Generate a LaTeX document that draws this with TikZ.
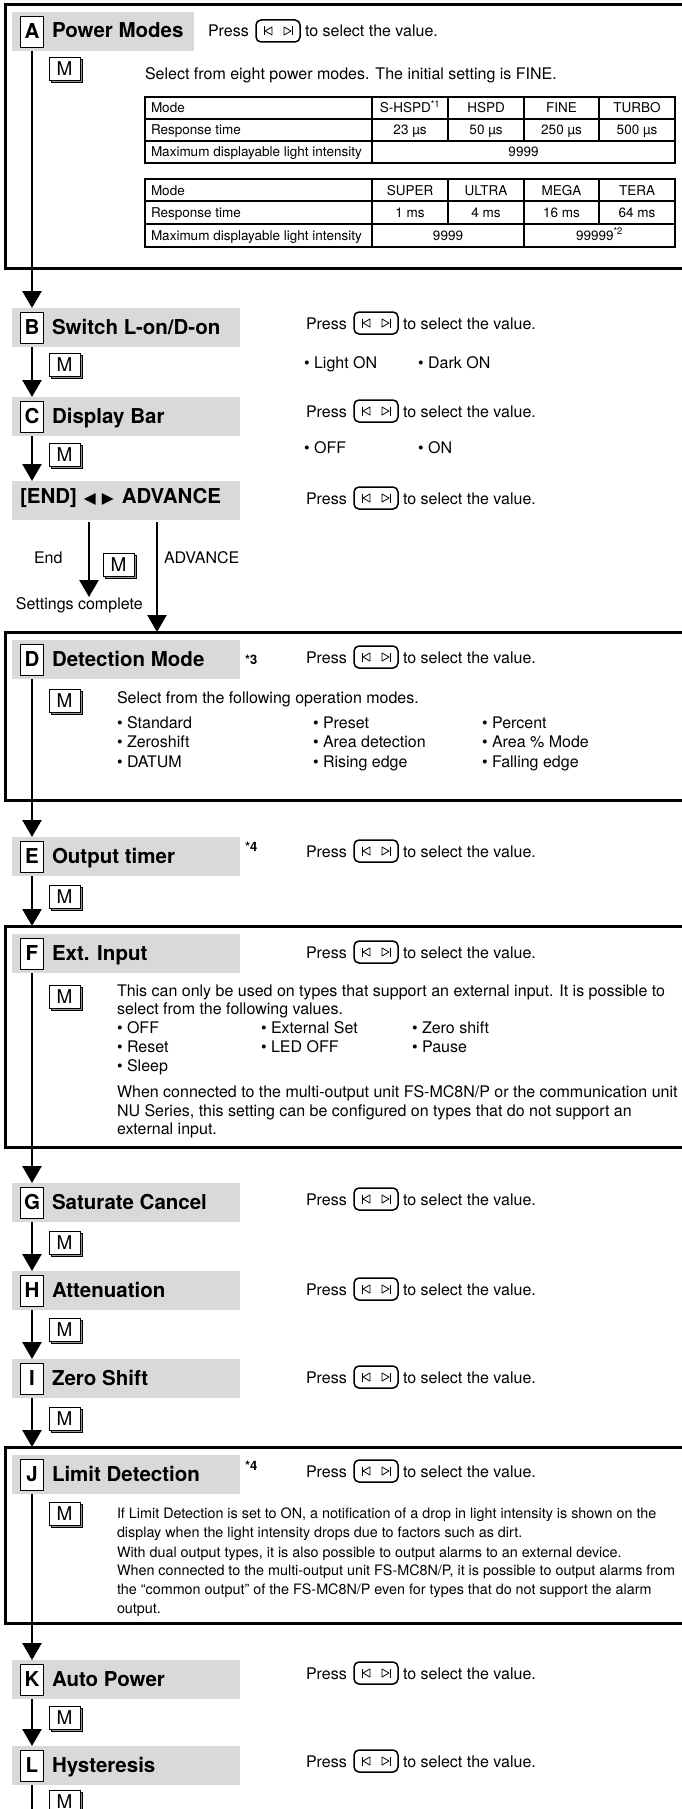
\documentclass[tikz,border=0pt]{standalone}
\usepackage{fontspec}
\setmainfont{TeX Gyre Heros}
\newfontfamily\dejavu{DejaVu Sans}
\usetikzlibrary{arrows.meta}
\definecolor{hgray}{gray}{0.85}
\definecolor{keyshadow}{gray}{0.6}
\tikzset{
  every node/.style={inner sep=0pt, outer sep=0pt},
  body/.style={font=\fontsize{16}{19}\selectfont, anchor=base west},
  para/.style={font=\fontsize{16}{19}\selectfont, anchor=base west},
  jpara/.style={font=\fontsize{14.35}{19}\selectfont, anchor=base west},
  tabtxt/.style={font=\fontsize{13.5}{16}\selectfont, anchor=base},
  tablbl/.style={font=\fontsize{13.5}{16}\selectfont, anchor=base west},
  title/.style={font=\fontsize{20.5}{24}\selectfont\bfseries, anchor=base west},
  hdr/.style={fill=hgray, anchor=north west, minimum height=39pt},
  letterbox/.style={draw, fill=white, line width=0.8pt, minimum width=23pt, minimum height=31pt, font=\fontsize{20.5}{24}\selectfont\bfseries},
  outerbox/.style={draw, line width=3pt, anchor=north west, minimum width=720pt},
  flow/.style={line width=2.5pt, -{Triangle[width=19pt,length=17pt]}},
  plainline/.style={line width=2.5pt},
  btn/.style={draw, rounded corners=5pt, line width=1.5pt, minimum width=44pt, minimum height=22pt, anchor=north west},
  glyph/.style={line width=0.8pt, line join=round},
  mkeybox/.style={draw, fill=white, line width=0.8pt, minimum width=31pt, minimum height=23pt, anchor=north west, font=\fontsize{19}{20}\selectfont},
  note/.style={font=\fontsize{13}{14}\selectfont\bfseries, anchor=base west},
  tbl/.style={line width=1.6pt},
}
\newcommand\pressline[3]{%
  \node[body] (#1p) at (#2,#3) {Press};
  \node[btn] (#1b) at ({#2+48},{#3-17}) {};
  \draw[glyph] ([shift={(-14,-4.5)}]#1b.center) -- ++(0,9);
  \draw[glyph] ([shift={(-6,-4)}]#1b.center) -- ++(-7,4) -- ++(7,4) -- cycle;
  \draw[glyph] ([shift={(14,-4.5)}]#1b.center) -- ++(0,9);
  \draw[glyph] ([shift={(6,-4)}]#1b.center) -- ++(7,4) -- ++(-7,4) -- cycle;
  \node[body] (#1t) at ({#2+97},#3) {to select the value.};
}
\newcommand\mkey[3]{%
  \draw[line width=0.8pt, fill=keyshadow] ({#2+2},{#3+2}) rectangle ({#2+33},{#3+25});
  \node[mkeybox] (#1) at (#2,#3) {M};
}
\newcommand\header[5]{%
  \node[hdr, minimum width=#5] (h#1) at (12,#4) {};
  \node[letterbox] (l#1) at (32,{#4+19.5}) {#2};
  \node[title] (t#1) at (52,{#4+26}) {#3};
}
\begin{document}
\begin{tikzpicture}[x=1pt,y=-1pt]
\useasboundingbox (0,0) rectangle (682,1809);
\clip (0,0) rectangle (682,1809);
\fill[white] (0,0) rectangle (682,1809);

% outer boxes
\node[outerbox, minimum height=263pt] (boxA) at (5,5) {};
\node[outerbox, minimum height=168pt] (boxD) at (5,632) {};
\node[outerbox, minimum height=221pt] (boxF) at (5,926) {};
\node[outerbox, minimum height=176pt] (boxJ) at (5,1447) {};

% ---------- A
\header{A}{A}{Power Modes}{12}{182pt}
\pressline{pA}{208}{37}
\mkey{mA}{49}{57}
\node[body] (selA) at (145,80) {Select from eight power modes. The initial setting is FINE.};
% table 1
\draw[tbl] (145,97) rectangle (675,163);
\draw[tbl] (145,119) -- (675,119) (145,141) -- (675,141);
\draw[tbl] (372,97) -- (372,163);
\draw[tbl] (448,97) -- (448,141) (524,97) -- (524,141) (599,97) -- (599,141);
\node[tablbl] (t1a) at (151,113) {Mode};
\node[tablbl] (t1b) at (151,135) {Response time};
\node[tablbl] (t1c) at (151,157) {Maximum displayable light intensity};
\node[tabtxt] (t1a1) at (410,113) {S-HSPD\textsuperscript{*1}};
\node[tabtxt] (t1a2) at (486,113) {HSPD};
\node[tabtxt] (t1a3) at (561.5,113) {FINE};
\node[tabtxt] (t1a4) at (637,113) {TURBO};
\node[tabtxt] (t1b1) at (410,135) {23 µs};
\node[tabtxt] (t1b2) at (486,135) {50 µs};
\node[tabtxt] (t1b3) at (561.5,135) {250 µs};
\node[tabtxt] (t1b4) at (637,135) {500 µs};
\node[tabtxt] (t1c1) at (523.5,157) {9999};
% table 2
\draw[tbl] (145,179) rectangle (675,247);
\draw[tbl] (145,201) -- (675,201) (145,224) -- (675,224);
\draw[tbl] (372,179) -- (372,247) (524,179) -- (524,247);
\draw[tbl] (448,179) -- (448,224) (599,179) -- (599,224);
\node[tablbl] (t2a) at (151,195) {Mode};
\node[tablbl] (t2b) at (151,217) {Response time};
\node[tablbl] (t2c) at (151,240) {Maximum displayable light intensity};
\node[tabtxt] (t2a1) at (410,195) {SUPER};
\node[tabtxt] (t2a2) at (486,195) {ULTRA};
\node[tabtxt] (t2a3) at (561.5,195) {MEGA};
\node[tabtxt] (t2a4) at (637,195) {TERA};
\node[tabtxt] (t2b1) at (410,217) {1 ms};
\node[tabtxt] (t2b2) at (486,217) {4 ms};
\node[tabtxt] (t2b3) at (561.5,217) {16 ms};
\node[tabtxt] (t2b4) at (637,217) {64 ms};
\node[tabtxt] (t2c1) at (448,240) {9999};
\node[tabtxt] (t2c2) at (599.5,240) {99999\textsuperscript{*2}};

% ---------- B
\header{B}{B}{Switch L-on/D-on}{308}{228pt}
\pressline{pB}{306}{329}
\mkey{mB}{49}{353}
\node[body] (bB1) at (304,368) {\textbullet\ Light ON};
\node[body] (bB2) at (418,368) {\textbullet\ Dark ON};

% ---------- C
\header{C}{C}{Display Bar}{397}{228pt}
\pressline{pC}{306}{417}
\mkey{mC}{49}{443}
\node[body] (bC1) at (304,453) {\textbullet\ OFF};
\node[body] (bC2) at (418,453) {\textbullet\ ON};

% ---------- END
\node[hdr, minimum width=228pt] (hEND) at (12,481) {};
\node[title] (tEND) at (20,503) {[END]\hspace{7pt}{\dejavu\fontsize{15.5}{15.5}\selectfont ◀\hspace{6pt}▶}\hspace{8pt}ADVANCE};
\pressline{pEND}{306}{504}
\coordinate (endsrc) at (89,522);
\coordinate (advsrc) at (157,522);
\node[body] (endlbl) at (34,563) {End};
\node[body] (advlbl) at (164,563) {ADVANCE};
\mkey{mEND}{103}{553}
\node[body] (setc) at (16,609) {Settings complete};

% ---------- D
\header{D}{D}{Detection Mode}{640}{228pt}
\node[note] (nD) at (245,664) {*3};
\pressline{pD}{306}{663}
\mkey{mD}{49}{689}
\node[body] (selD) at (117,703) {Select from the following operation modes.};
\node[body] (dB11) at (117,728) {\textbullet\ Standard};
\node[body] (dB12) at (313,728) {\textbullet\ Preset};
\node[body] (dB13) at (482,728) {\textbullet\ Percent};
\node[body] (dB21) at (117,747) {\textbullet\ Zeroshift};
\node[body] (dB22) at (313,747) {\textbullet\ Area detection};
\node[body] (dB23) at (482,747) {\textbullet\ Area \% Mode};
\node[body] (dB31) at (117,767) {\textbullet\ DATUM};
\node[body] (dB32) at (313,767) {\textbullet\ Rising edge};
\node[body] (dB33) at (482,767) {\textbullet\ Falling edge};

% ---------- E
\header{E}{E}{Output timer}{837}{228pt}
\node[note] (nE) at (245,851) {*4};
\pressline{pE}{306}{857}
\mkey{mE}{49}{885}

% ---------- F
\header{F}{F}{Ext. Input}{934}{228pt}
\pressline{pF}{306}{958}
\mkey{mF}{49}{985}
\node[para] (fP1a) at (117,996) {This can only be used on types that support an external input. It is possible to};
\node[para] (fP1b) at (117,1014) {select from the following values.};
\node[body] (fB11) at (117,1033) {\textbullet\ OFF};
\node[body] (fB12) at (261,1033) {\textbullet\ External Set};
\node[body] (fB13) at (412,1033) {\textbullet\ Zero shift};
\node[body] (fB21) at (117,1052) {\textbullet\ Reset};
\node[body] (fB22) at (261,1052) {\textbullet\ LED OFF};
\node[body] (fB23) at (412,1052) {\textbullet\ Pause};
\node[body] (fB31) at (117,1071) {\textbullet\ Sleep};
\node[para] (fP2a) at (117,1097) {When connected to the multi-output unit FS-MC8N/P or the communication unit};
\node[para] (fP2b) at (117,1116) {NU Series, this setting can be configured on types that do not support an};
\node[para] (fP2c) at (117,1134) {external input.};

% ---------- G, H, I
\header{G}{G}{Saturate Cancel}{1183}{228pt}
\pressline{pG}{306}{1205}
\mkey{mG}{49}{1231}
\header{H}{H}{Attenuation}{1271}{228pt}
\pressline{pH}{306}{1295}
\mkey{mH}{49}{1318}
\header{I}{I}{Zero Shift}{1359}{228pt}
\pressline{pI}{306}{1383}
\mkey{mI}{49}{1407}

% ---------- J
\header{J}{J}{Limit Detection}{1455}{228pt}
\node[note] (nJ) at (245,1470) {*4};
\pressline{pJ}{306}{1477}
\mkey{mJ}{49}{1502}
\node[jpara] (jP1) at (117,1518) {If Limit Detection is set to ON, a notification of a drop in light intensity is shown on the};
\node[jpara] (jP2) at (117,1537) {display when the light intensity drops due to factors such as dirt.};
\node[jpara] (jP3) at (117,1557) {With dual output types, it is also possible to output alarms to an external device.};
\node[jpara] (jP4) at (117,1575) {When connected to the multi-output unit FS-MC8N/P, it is possible to output alarms from};
\node[jpara] (jP5) at (117,1594) {the “common output” of the FS-MC8N/P even for types that do not support the alarm};
\node[jpara] (jP6) at (117,1613) {output.};

% ---------- K, L
\header{K}{K}{Auto Power}{1660}{228pt}
\pressline{pK}{306}{1679}
\mkey{mK}{49}{1706}
\header{L}{L}{Hysteresis}{1746}{228pt}
\pressline{pL}{306}{1767}
\mkey{mL}{49}{1790}
\coordinate (bottomend) at (32,1815);

% ---------- connectors
\draw[flow] (lA |- hA.south) -- (lB |- hB.north);
\draw[flow] (lB |- hB.south) -- (lC |- hC.north);
\draw[flow] (lC |- hC.south) -- (lC |- hEND.north);
\draw[flow] (endsrc) -- (endsrc |- setc.north);
\draw[flow] (advsrc) -- (advsrc |- boxD.north);
\draw[flow] (lD |- hD.south) -- (lE |- hE.north);
\draw[flow] (lE |- hE.south) -- (lE |- boxF.north);
\draw[flow] (lF |- hF.south) -- (lG |- hG.north);
\draw[flow] (lG |- hG.south) -- (lH |- hH.north);
\draw[flow] (lH |- hH.south) -- (lI |- hI.north);
\draw[flow] (lI |- hI.south) -- (lI |- boxJ.north);
\draw[flow] (lJ |- hJ.south) -- (lK |- hK.north);
\draw[flow] (lK |- hK.south) -- (lL |- hL.north);
\draw[plainline] (lL |- hL.south) -- (bottomend);
\end{tikzpicture}
\end{document}
